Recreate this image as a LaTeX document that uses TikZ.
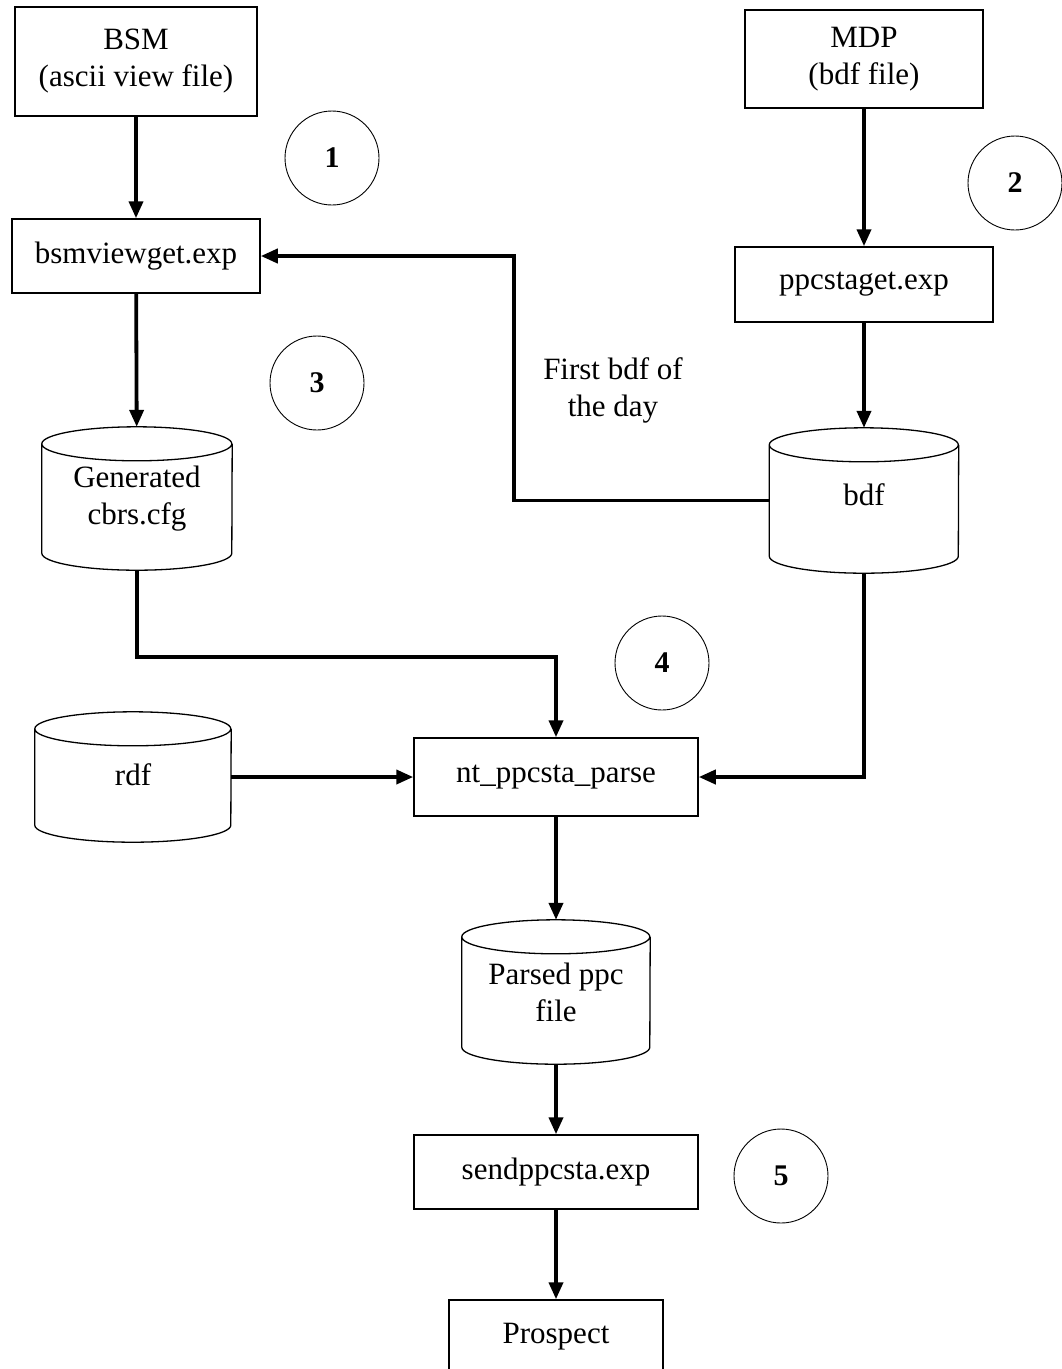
\documentclass[tikz,border=0pt]{standalone}
\usepackage{fontspec}
\setmainfont{Liberation Serif}
\usetikzlibrary{arrows.meta}
% drum outline round a named node: #1 node, #2 half width
\newcommand{\dbdrum}[2]{%
\draw[line width=1.3pt] ([yshift=-17pt]#1.north west) arc[start angle=180, end angle=540, x radius=#2, y radius=17pt]
  -- ([yshift=17pt]#1.south west) arc[start angle=180, end angle=360, x radius=#2, y radius=17pt]
  -- ([yshift=-17pt]#1.north east);}
\begin{document}
\begin{tikzpicture}[x=1pt, y=-1pt, font=\fontsize{31}{37}\selectfont,
  box/.style={draw, line width=1.5pt, inner sep=0pt, align=center},
  drum/.style={inner sep=0pt, align=center},
  num/.style={circle, draw, line width=0.9pt, minimum size=94pt, inner sep=0pt, font=\fontsize{30}{34}\selectfont\bfseries},
  arr/.style={line width=3.8pt, -{Triangle[length=17pt, width=14pt]}}]
\useasboundingbox (0,0) rectangle (1062,1369);
\node[box, minimum width=242pt, minimum height=109pt] (P_0_0) at (136,61.5) {BSM\\(ascii view file)};
\node[box, minimum width=248pt, minimum height=74pt] (P_1_0) at (136,256) {bsmviewget.exp};
\draw[arr] (P_0_0) -- (P_1_0);
\node[box, minimum width=238pt, minimum height=98pt] (P_0_1) at (864,59) {MDP\\(bdf file)};
\node[box, minimum width=258pt, minimum height=75pt] (P_1_1) at (864,284.5) {ppcstaget.exp};
\draw[arr] (P_0_1) -- (P_1_1);
\node[drum, minimum width=190pt, minimum height=143pt] (P_2_0) at (137,498.5) {Generated\\cbrs.cfg};
\dbdrum{P_2_0}{95pt}
\draw[arr] (P_1_0) -- (P_2_0);
\node[drum, minimum width=189pt, minimum height=145pt] (P_2_1) at (864,500.5) {\raisebox{12pt}{bdf}};
\dbdrum{P_2_1}{94.5pt}
\draw[arr] (P_1_1) -- (P_2_1);
\draw[arr] (P_2_1.west) -- ++(-255,0) |- (P_1_0.east);
\node[align=center] (L_0) at (613,390) {First bdf of\\the day};
\node[box, minimum width=284pt, minimum height=78pt] (P_3_1) at (556,777) {nt\_ppcsta\_parse};
\draw[arr] (P_2_0.south) -- ++(0,87) -| (P_3_1.north);
\draw[arr] (P_2_1.south) |- (P_3_1.east);
\node[drum, minimum width=196pt, minimum height=130pt] (P_3_0) at (133,777) {\raisebox{4pt}{rdf}};
\dbdrum{P_3_0}{98pt}
\draw[arr] (P_3_0) -- (P_3_1);
\node[drum, minimum width=188pt, minimum height=144pt] (P_4_0) at (556,992) {Parsed ppc\\file};
\dbdrum{P_4_0}{94pt}
\draw[arr] (P_3_1) -- (P_4_0);
\node[box, minimum width=284pt, minimum height=74pt] (P_5_0) at (556,1172) {sendppcsta.exp};
\draw[arr] (P_4_0) -- (P_5_0);
\node[box, minimum width=214pt, minimum height=74pt] (P_6_0) at (556,1337) {Prospect};
\draw[arr] (P_5_0) -- (P_6_0);
% step numbers
\node[num] (C_1) at (332,158) {1};
\node[num] (C_2) at (1015,183) {2};
\node[num] (C_3) at (317,383) {3};
\node[num] (C_4) at (662,663) {4};
\node[num] (C_5) at (781,1176) {5};
\end{tikzpicture}
\end{document}
